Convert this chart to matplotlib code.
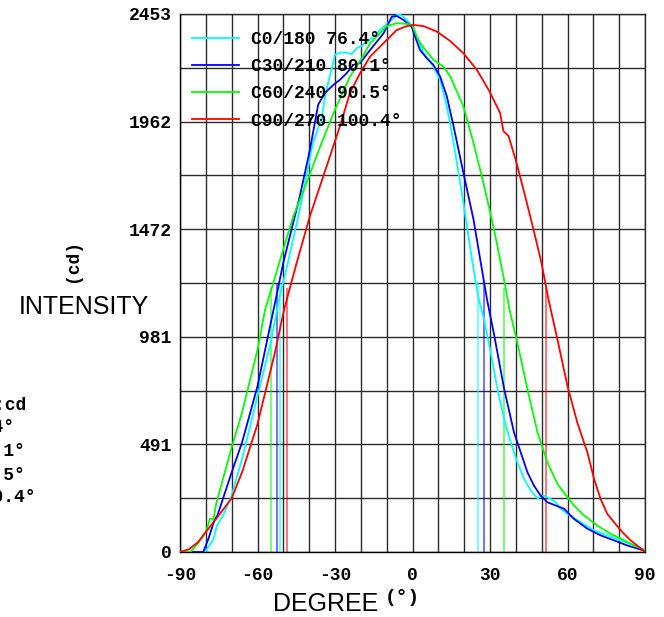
import numpy as np
import matplotlib
matplotlib.use("Agg")
import matplotlib.pyplot as plt

MONO = "Liberation Mono"
SANS = "Liberation Sans"

# candela curves
c0_deg = [-90, -81, -80, -77, -75.7, -73, -70, -66, -60, -55, -51.7, -48.8, -43.6, -38.5,
          -35.3, -33.3, -30, -28.1, -25.5, -23.6, -21.6, -19.7, -16, -12.6, -7.4, -5.7,
          -3.8, -1, 1.7, 4.3, 8.1, 10.7, 13.3, 15.9, 19.7, 23, 25.5, 27.7, 30.3, 32.9,
          35.5, 38, 40.6, 43.2, 45.8, 48.4, 50.9, 53.5, 55.4, 57.4, 60, 65.1, 70.3,
          75.4, 80.6, 85.7, 90]
c0_cd = [0, 0, 5, 60, 121, 174, 257, 424, 711, 950, 1149, 1290, 1563, 1866,
         1972, 2108, 2267, 2277, 2277, 2270, 2297, 2308, 2340, 2380, 2433, 2453,
         2444, 2411, 2342, 2274, 2214, 2153, 2032, 1866, 1593, 1335, 1160, 1060, 908, 742,
         606, 500, 409, 333, 280, 245, 257, 242, 227, 197, 174, 136, 98,
         76, 53, 30, 5]

c30_deg = [-90, -81, -79, -76.7, -75.5, -70, -66, -60, -53, -50, -43.6, -39.7, -36.5,
           -33.9, -30.6, -28.1, -25.5, -22.9, -20.3, -16.4, -11.2, -8, -6.1, -3.5, -0.3,
           1, 2.9, 5.5, 8.1, 10.7, 13.3, 15.9, 19.7, 23.6, 26.2, 28.8, 31.6, 35.5, 39.3,
           41.9, 44.5, 47, 49.6, 52.2, 55.4, 58.7, 62.5, 67.7, 72.8, 78, 83.1, 90]
c30_cd = [0, 0, 60, 144, 167, 363, 499, 756, 1149, 1320, 1623, 1835, 2040,
          2093, 2130, 2153, 2183, 2221, 2229, 2289, 2365, 2441, 2444, 2426, 2395,
          2350, 2289, 2252, 2221, 2168, 2077, 1941, 1729, 1517, 1335, 1154, 990, 742, 545,
          454, 363, 303, 257, 227, 212, 197, 151, 106, 76, 53, 30, 5]

c60_deg = [-90, -86, -83, -80, -78.4, -77, -76, -70, -66, -60, -57, -53.9, -50, -46.1,
           -40, -35.7, -30, -24.2, -20, -16.4, -13.2, -10, -6.1, -2.2, 0, 1.7, 3, 5.5,
           8.1, 11.9, 14.6, 19.7, 23.6, 26.8, 29.8, 32.6, 35.9, 37.5, 40.6, 44.5, 48.4,
           52.2, 56.1, 60, 62.5, 66.4, 71.5, 76.7, 81.9, 87, 90]
c60_cd = [0, 0, 40, 91, 151, 151, 220, 477, 635, 922, 1108, 1226, 1381, 1532,
          1714, 1850, 2017, 2168, 2244, 2320, 2358, 2398, 2411, 2408, 2400, 2350, 2320, 2282,
          2244, 2214, 2168, 2032, 1866, 1714, 1563, 1411, 1214, 1108, 954, 742, 545,
          409, 310, 250, 212, 167, 121, 83, 53, 23, 10]

c90_deg = [-90, -86.6, -83, -80, -75, -70, -66, -60, -53, -50, -48.7, -44.8, -39.7,
           -33.2, -28.1, -24.2, -20.3, -16.4, -11.2, -6.1, -2.2, 0.4, 4.2, 9.4, 14.6,
           19.7, 24.9, 29.8, 33.9, 35.2, 37.2, 39.9, 43.6, 46.8, 49.9, 52.6, 56.1, 60,
           63.8, 67.7, 70.3, 72.8, 75.4, 78, 81.2, 84.4, 87.7, 90]
c90_cd = [0, 12, 45, 91, 167, 245, 363, 583, 922, 1090, 1150, 1320, 1532,
          1760, 1941, 2093, 2183, 2259, 2320, 2380, 2398, 2403, 2398, 2373, 2330,
          2274, 2199, 2100, 2002, 1919, 1896, 1790, 1623, 1472, 1320, 1154, 969, 757,
          590, 454, 333, 242, 174, 136, 91, 53, 23, 0]

# half-intensity edges (beam angle)
c0_edges = [-51.2, 25.2]
c30_edges = [-52.6, 27.6]
c60_edges = [-54.8, 35.6]
c90_edges = [-48.7, 51.7]

labels = ["C0/180 76.4°", "C30/210 80.1°", "C60/240 90.5°", "C90/270 100.4°"]
colors = ["#00ffff", "#0000ff", "#00ff00", "#ff0000"]

y_max = 2453
ytick_labels = ["0", "491", "981", "1472", "1962", "2453"]
xtick_vals = [-90, -60, -30, 0, 30, 60, 90]
xtick_labels = ["-90", "-60", "-30", "0", "30", "60", "90"]

series = [(c0_deg, c0_cd, c0_edges), (c30_deg, c30_cd, c30_edges),
          (c60_deg, c60_cd, c60_edges), (c90_deg, c90_cd, c90_edges)]

fig = plt.figure(figsize=(6.64, 6.17), dpi=100)
ax = fig.add_axes([180 / 664, 65 / 617, 465 / 664, 538 / 617])

for (deg, cd, edges), lab, col in zip(series, labels, colors):
    ax.vlines(edges, 0, max(cd) / 2, colors=col, alpha=0.55, lw=1.4, zorder=2)
    ax.plot(deg, cd, color=col, lw=1.3, label=lab, zorder=3)

ax.set_xlim(-90, 90)
ax.set_ylim(0, y_max)

ax.set_xticks(xtick_vals)
ax.set_xticklabels(xtick_labels, fontfamily=MONO, fontweight="bold", fontsize=13)
ax.set_xticks(np.arange(-90, 91, 10), minor=True)
ax.set_yticks(np.linspace(0, y_max, len(ytick_labels)))
ax.set_yticklabels(ytick_labels, fontfamily=MONO, fontweight="bold", fontsize=13)
ax.set_yticks(np.linspace(0, y_max, 11), minor=True)
ax.tick_params(which="both", length=0)
ax.tick_params(axis="x", pad=11)
ax.tick_params(axis="y", pad=6)
ax.grid(which="both", color="#2a2a2a", lw=1.0)
ax.set_axisbelow(True)
for s in ax.spines.values():
    s.set_color("#2a2a2a")
    s.set_linewidth(1.0)
ax.spines["left"].set_color("black")
ax.spines["bottom"].set_color("black")

leg = ax.legend(loc="upper left", bbox_to_anchor=(0.025, 0.968), frameon=False,
                borderaxespad=0, borderpad=0, handlelength=2.64, handletextpad=0.65,
                labelspacing=0.56, prop={"family": MONO, "weight": "bold", "size": 13})

# axis captions
fig.text(326 / 664, 1 - 604 / 617, "DEGREE", family=SANS, fontsize=18,
         ha="center", va="center")
fig.text(402 / 664, 1 - 597 / 617, "(°)", family=MONO, fontweight="bold", fontsize=14,
         ha="center", va="center")
fig.text(84 / 664, 1 - 307 / 617, "INTENSITY", family=SANS, fontsize=18,
         ha="center", va="center")
fig.text(72 / 664, 1 - 260 / 617, "(cd)", family=MONO, fontweight="bold", fontsize=13,
         ha="center", va="center", rotation=90)

# info block, mostly outside the canvas on the left (cut off like the original)
fig.text(27 / 664, 1 - 406 / 617, "Unit:cd", family=MONO, fontweight="bold", fontsize=13,
         ha="right", va="center")
for lab, yp in zip(labels, [427, 451, 475, 498]):
    fig.text(-115 / 664, 1 - yp / 617, lab, family=MONO, fontweight="bold", fontsize=13,
             ha="left", va="center")

fig.savefig("out.png", dpi=100)
